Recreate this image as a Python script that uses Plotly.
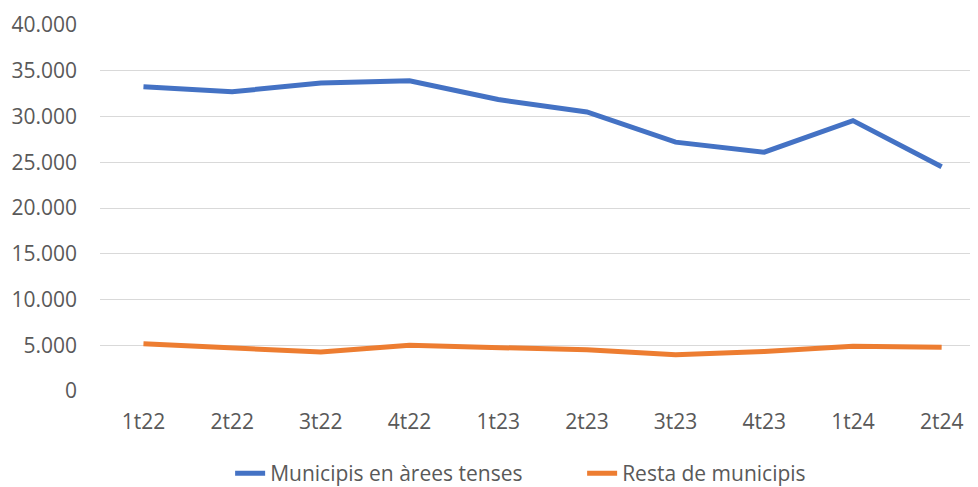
import plotly.graph_objects as go

quarters = ["1t22", "2t22", "3t22", "4t22", "1t23", "2t23", "3t23", "4t23", "1t24", "2t24"]
tense_areas = [33260, 32700, 33670, 33900, 31850, 30500, 27200, 26100, 29550, 24500]
rest_municipalities = [5170, 4700, 4260, 4990, 4700, 4500, 3970, 4330, 4880, 4770]

font_family = "Open Sans, Noto Sans, sans-serif"
tick_color = "#595959"
fs = 21

fig = go.Figure()
fig.add_trace(go.Scatter(x=quarters, y=tense_areas, mode="lines",
                         name="Municipis en àrees tenses",
                         line=dict(color="#4472C4", width=5)))
fig.add_trace(go.Scatter(x=quarters, y=rest_municipalities, mode="lines",
                         name="Resta de municipis",
                         line=dict(color="#ED7D31", width=5)))

# page body has an 8px default margin, so the figure is sized to fill the rest
fig.update_layout(
    width=970, height=479,
    margin=dict(l=92, r=0, t=17, b=96, autoexpand=False),
    paper_bgcolor="white", plot_bgcolor="white",
    font=dict(family=font_family, size=fs, color=tick_color),
    showlegend=True,
    legend=dict(orientation="h", xref="container", yref="container",
                x=0.229, xanchor="left", y=0.071, yanchor="top",
                font=dict(size=fs, color=tick_color),
                entrywidth=307, tracegroupgap=0),
    xaxis=dict(range=[-0.49, 9.41], showgrid=False, zeroline=False,
               showline=False, ticks="", ticklabelstandoff=16,
               tickfont=dict(size=fs, color=tick_color)),
    yaxis=dict(range=[0, 40000], tickvals=[0, 5000, 10000, 15000, 20000, 25000, 30000, 35000, 40000],
               ticktext=["0", "5.000", "10.000", "15.000", "20.000", "25.000", "30.000", "35.000", "40.000"],
               showgrid=True, gridcolor="#D9D9D9", gridwidth=1,
               zeroline=False, showline=False, ticks="", ticklabelstandoff=22,
               tickfont=dict(size=fs, color=tick_color)),
)

fig.write_html("out.html")
